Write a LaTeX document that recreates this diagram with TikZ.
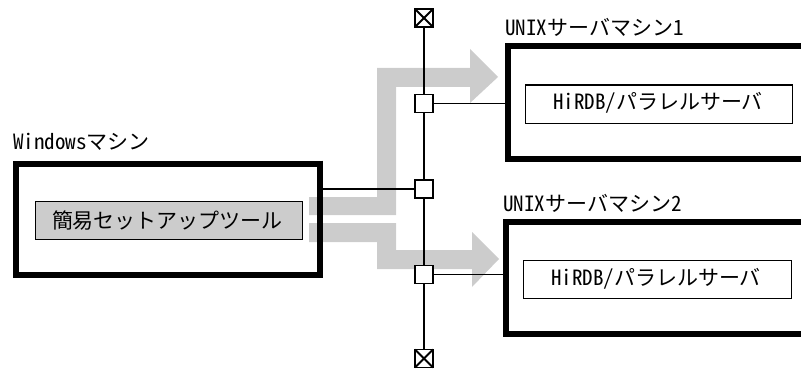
\documentclass[tikz,border=0pt]{standalone}
\usepackage{fontspec}
\newfontfamily\jp{Noto Sans CJK JP}
\newfontfamily\lat[RawFeature=+hwid]{Noto Sans CJK JP}
\newcommand{\lbl}[2]{{\fontsize{21}{23}\lat #1}{\fontsize{21}{23}\jp #2}}
\newcommand{\lblb}[3]{{\fontsize{21}{23}\lat #1}{\fontsize{21}{23}\jp #2}{\fontsize{21}{23}\lat #3}}
\begin{document}
\begin{tikzpicture}[x=1pt,y=-1pt,
  machine/.style={draw=black,line width=6pt,fill=white,miter limit=10},
  inner/.style={draw=black,line width=1.7pt,fill=white},
  tool/.style={draw=black,line width=1.7pt,fill=graybox},
  bigarrow/.style={fill=graybox,draw=none},
  port/.style={draw=black,line width=1.7pt,fill=white,minimum size=18pt,inner sep=0pt,outer sep=0pt,rectangle},
  wire/.style={draw=black,line width=1.8pt},
  label/.style={inner sep=0pt,anchor=base west,text=black},
  ctext/.style={inner sep=0pt,anchor=base,text=black}]
\definecolor{graybox}{HTML}{CCCCCC}
\useasboundingbox (0,0) rectangle (801,369);
% machines
\draw[machine] (16,163.5) rectangle (320,275);
\draw[machine] (508,46) rectangle (815,159);
\draw[machine] (506,222) rectangle (815,334);
% gray arrows
\fill[bigarrow] (309,197) -- (377,197) -- (377,68) -- (470,68) -- (470,49) -- (498,77) -- (470,103) -- (470,87) -- (396,87) -- (396,215) -- (309,215) -- cycle;
\fill[bigarrow] (309,223) -- (396,223) -- (396,250) -- (472,250) -- (472,232) -- (499,259) -- (472,287) -- (472,269) -- (377,269) -- (377,242) -- (309,242) -- cycle;
% right edge of the Windows box lies above the arrows
\draw[black,line width=6pt] (320,160.5) -- (320,278);
% inner boxes
\node[tool,minimum width=267pt,minimum height=38pt,inner sep=0pt,anchor=north west] (tool) at (34.5,200.5) {};
\node[inner,minimum width=267pt,minimum height=38pt,inner sep=0pt,anchor=north west] (srv1) at (524.5,84.5) {};
\node[inner,minimum width=268pt,minimum height=38pt,inner sep=0pt,anchor=north west] (srv2) at (522.5,259.5) {};
% ports
\coordinate (topend) at (424,18);
\coordinate (botend) at (424,359);
\coordinate (m1) at (505,103.5);
\coordinate (m2) at (503,274.5);
\coordinate (mw) at (323,189);
\draw[wire] (topend) -- (botend);
\node[port] (p0) at (424,18) {};
\node[port] (p1) at (424,103.5) {};
\node[port] (p2) at (424,189) {};
\node[port] (p3) at (424,274.5) {};
\node[port] (p4) at (424,358.5) {};
\draw[wire] (p0.north west) -- (p0.south east);
\draw[wire] (p0.north east) -- (p0.south west);
\draw[wire] (p4.north west) -- (p4.south east);
\draw[wire] (p4.north east) -- (p4.south west);
\draw[wire] (p1.east) -- (m1);
\draw[wire] (p3.east) -- (m2);
\draw[wire] (mw) -- (p2.west);
% labels
\node[label] (lw) at (13,149) {\lbl{Windows}{マシン}};
\node[label] (l1) at (505,36) {\lblb{UNIX}{サーバマシン}{1}};
\node[label] (l2) at (503,211) {\lblb{UNIX}{サーバマシン}{2}};
\node[ctext] (t0) at (167.5,228) {\fontsize{21}{23}\jp 簡易セットアップツール};
\node[ctext] (t1) at (658,110) {\lbl{HiRDB/}{パラレルサーバ}};
\node[ctext] (t2) at (656,285) {\lbl{HiRDB/}{パラレルサーバ}};
\end{tikzpicture}
\end{document}
